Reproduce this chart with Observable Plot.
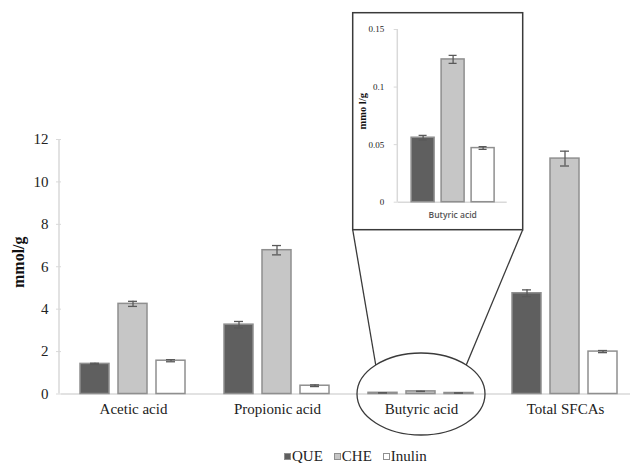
<!DOCTYPE html>
<html>
<head>
<meta charset="utf-8">
<script src="https://cdn.jsdelivr.net/npm/d3@7"></script>
<script src="https://cdn.jsdelivr.net/npm/@observablehq/plot@0.6"></script>
<style>
html, body { margin: 0; padding: 0; background: #fff; overflow: hidden; width: 630px; height: 463px; }
#chart svg { display: block; }
#legend { display: flex; justify-content: flex-start; align-items: center; padding-top: 19px; padding-left: 284px; font-family: "Liberation Serif", "Times New Roman", serif; font-size: 15px; color: #222; line-height: 15px; }
#legend .item { display: flex; align-items: center; margin-right: 11px; font-family: "Liberation Serif", serif; }
#legend .sw { display: inline-block; width: 5px; height: 5px; border: 1px solid #8f8f8f; margin-right: 1px; }
</style>
</head>
<body>
<div id="chart"></div>
<div id="legend"></div>
<script>
// ---- data ----
const categories = ["Acetic acid", "Propionic acid", "Butyric acid", "Total SFCAs"];
const series = ["QUE", "CHE", "Inulin"];
const queValues = [1.42, 3.27, 0.056, 4.75];
const cheValues = [4.25, 6.78, 0.124, 11.1];
const inulinValues = [1.57, 0.39, 0.047, 2.0];
const queErrors = [0.03, 0.15, 0.002, 0.16];
const cheErrors = [0.12, 0.22, 0.0035, 0.35];
const inulinErrors = [0.05, 0.04, 0.0012, 0.05];
const mainTicks = [0, 2, 4, 6, 8, 10, 12];
const insetTicks = [0, 0.05, 0.1, 0.15];
const insetCategory = "Butyric acid";
const fills = ["#5f5f5f", "#c6c6c6", "#ffffff"];

const valueSets = [queValues, cheValues, inulinValues];
const errorSets = [queErrors, cheErrors, inulinErrors];
const rows = categories.flatMap((c, i) => series.map((s, j) => ({
  cat: c, series: s, value: valueSets[j][i], err: errorSets[j][i]
})));

const serif = "'Liberation Serif', 'Times New Roman', serif";
const barStroke = "#8f8f8f";
const errStroke = "#595959";
const axisGray = "#d9d9d9";

function barMarks(data, capInset) {
  return [
    Plot.barY(data, {fx: "cat", x: "series", y: "value", fill: "series", stroke: barStroke, strokeWidth: 1.5}),
    Plot.ruleX(data, {fx: "cat", x: "series", y1: d => d.value - d.err, y2: d => d.value + d.err, stroke: errStroke, strokeWidth: 1.3}),
    Plot.tickY(data, {fx: "cat", x: "series", y: d => d.value - d.err, stroke: errStroke, strokeWidth: 1.3, insetLeft: capInset, insetRight: capInset}),
    Plot.tickY(data, {fx: "cat", x: "series", y: d => d.value + d.err, stroke: errStroke, strokeWidth: 1.3, insetLeft: capInset, insetRight: capInset})
  ];
}

// ---- main chart ----
const mainMarginLeft = 59;
const main = Plot.plot({
  width: 638, height: 430,
  marginTop: 139, marginBottom: 36.5, marginLeft: mainMarginLeft, marginRight: 0,
  style: {fontFamily: serif, fontSize: "15px", color: "#222", background: "transparent"},
  fx: {domain: categories, paddingInner: 0, paddingOuter: 0, label: null},
  x: {domain: series, paddingInner: 0.23, paddingOuter: 0.469, axis: null},
  y: {domain: [0, 12], label: null},
  color: {domain: series, range: fills},
  marks: [
    Plot.ruleY([0], {stroke: axisGray, strokeWidth: 1.5}),
    Plot.axisY(mainTicks, {tickSize: 5, tickPadding: 8, stroke: axisGray, fill: "#222", label: null}),
    Plot.axisFx({anchor: "bottom", tickSize: 0, tickPadding: 9, label: null, fill: "#222"}),
    ...barMarks(rows, 10)
  ]
});
main.style.maxWidth = "none";
main.style.overflow = "visible";
document.getElementById("chart").appendChild(main);

const svg = d3.select(main);
const y = main.scale("y");
const fx = main.scale("fx");

// y axis line
svg.append("line")
  .attr("x1", mainMarginLeft).attr("x2", mainMarginLeft)
  .attr("y1", y.apply(12)).attr("y2", y.apply(0))
  .attr("stroke", axisGray).attr("stroke-width", 1.5);

// y label
svg.append("text")
  .attr("transform", `translate(20,${(y.apply(0) + y.apply(12)) / 2 - 4}) rotate(-90)`)
  .attr("text-anchor", "middle").attr("dominant-baseline", "middle")
  .attr("font-family", serif).attr("font-size", 16).attr("font-weight", "bold").attr("fill", "#111")
  .text("mmol/g");

// ellipse around the butyric group
const cx = fx.apply(insetCategory) + fx.bandwidth / 2;
const cy = y.apply(0) + 0.5;
const rx = 64, ry = 41;
svg.append("ellipse")
  .attr("cx", cx).attr("cy", cy).attr("rx", rx).attr("ry", ry)
  .attr("fill", "none").attr("stroke", "#3a3a3a").attr("stroke-width", 1.3);

// ---- inset chart ----
const box = {x: 352.7, y: 12.7, w: 170, h: 217};
const inset = Plot.plot({
  width: box.w, height: box.h,
  marginTop: 16.3, marginBottom: 28, marginLeft: 44.6, marginRight: 16,
  style: {fontFamily: serif, fontSize: "9px", color: "#222", background: "transparent"},
  fx: {domain: [insetCategory], paddingInner: 0, paddingOuter: 0, label: null},
  x: {domain: series, paddingInner: 0.24, paddingOuter: 0.425, axis: null},
  y: {domain: [0, 0.15], label: null},
  color: {domain: series, range: fills},
  marks: [
    Plot.ruleY([0], {stroke: axisGray, strokeWidth: 1.5}),
    Plot.axisY(insetTicks, {tickSize: 4, tickPadding: 10, stroke: axisGray, fill: "#222", label: null, tickFormat: d => String(d)}),
    Plot.axisFx({anchor: "bottom", tickSize: 0, tickPadding: 10, label: null, fill: "#555", fontFamily: "'Open Sans', sans-serif", fontSize: 8.5, fontWeight: 600}),
    ...barMarks(rows.filter(d => d.cat === insetCategory), 7.5)
  ]
});
const iy = inset.scale("y");
d3.select(inset).append("line")
  .attr("x1", 44.6).attr("x2", 44.6)
  .attr("y1", iy.apply(0.15)).attr("y2", iy.apply(0))
  .attr("stroke", axisGray).attr("stroke-width", 1.5);
d3.select(inset).append("text")
  .attr("transform", `translate(10.5,${(iy.apply(0) + iy.apply(0.15)) / 2 - 4}) rotate(-90)`)
  .attr("text-anchor", "middle").attr("dominant-baseline", "middle")
  .attr("font-family", serif).attr("font-size", 10.5).attr("font-weight", "bold").attr("fill", "#111")
  .text("mmo l/g");

svg.append("rect")
  .attr("x", box.x).attr("y", box.y).attr("width", box.w).attr("height", box.h)
  .attr("fill", "#fff");
inset.setAttribute("x", box.x);
inset.setAttribute("y", box.y);
inset.style.maxWidth = "none";
inset.style.width = box.w + "px";
inset.style.height = box.h + "px";
main.appendChild(inset);
svg.append("rect")
  .attr("x", box.x).attr("y", box.y).attr("width", box.w).attr("height", box.h)
  .attr("fill", "none").attr("stroke", "#3a3a3a").attr("stroke-width", 1.5);

// connector lines
const angL = -135 * Math.PI / 180, angR = -45 * Math.PI / 180;
svg.append("line")
  .attr("x1", box.x).attr("y1", box.y + box.h)
  .attr("x2", cx + rx * Math.cos(angL)).attr("y2", cy + ry * Math.sin(angL))
  .attr("stroke", "#3a3a3a").attr("stroke-width", 1.3);
svg.append("line")
  .attr("x1", box.x + box.w).attr("y1", box.y + box.h)
  .attr("x2", cx + rx * Math.cos(angR)).attr("y2", cy + ry * Math.sin(angR))
  .attr("stroke", "#3a3a3a").attr("stroke-width", 1.3);

// ---- legend ----
const legend = d3.select("#legend");
series.forEach((s, i) => {
  const item = legend.append("span").attr("class", "item");
  item.append("span").attr("class", "sw").style("background", fills[i]);
  item.append("span").style("font-family", serif).text(s);
});
</script>
</body>
</html>
